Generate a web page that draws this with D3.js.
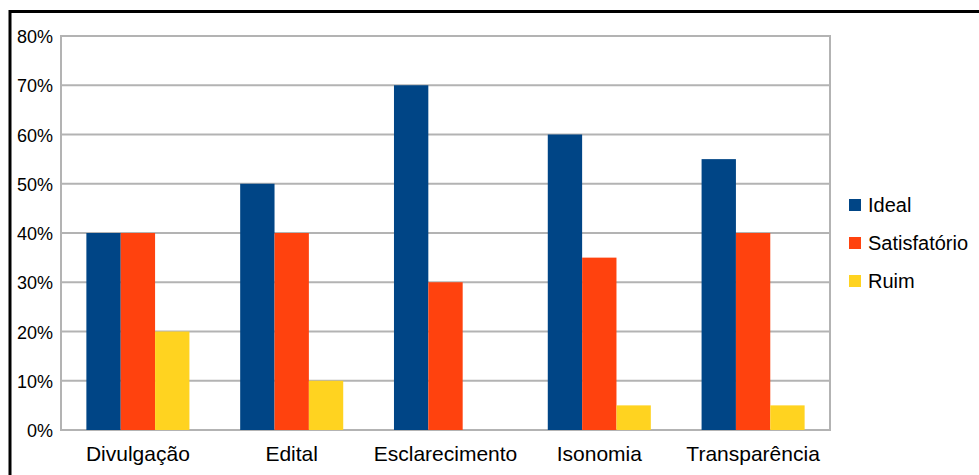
<!DOCTYPE html>
<html lang="en">
<head>
    <meta charset="UTF-8">
    <title>Avaliação</title>
    <script src="https://d3js.org/d3.v7.min.js"></script>
    <style>
        body {
            margin: 0;
            background-color: #ffffff;
            font-family: "Liberation Sans", Arial, sans-serif;
        }
        .grid line {
            stroke: #b3b3b3;
            stroke-width: 2;
        }
        .tick-label {
            font-size: 18px;
            fill: #000;
        }
        .cat-label {
            font-size: 21px;
            fill: #000;
        }
        .legend-label {
            font-size: 20px;
            fill: #000;
        }
    </style>
</head>
<body>
    <div id="chart"></div>

    <script>
        // Data
        var categories = ["Divulgação", "Edital", "Esclarecimento", "Isonomia", "Transparência"];
        var seriesNames = ["Ideal", "Satisfatório", "Ruim"];
        var ideal = [40, 50, 70, 60, 55];
        var satisfatorio = [40, 40, 30, 35, 40];
        var ruim = [20, 10, 0, 5, 5];
        var yTicks = [0, 10, 20, 30, 40, 50, 60, 70, 80];
        var colors = ["#004586", "#ff420e", "#ffd320"];

        var seriesValues = [ideal, satisfatorio, ruim];

        var W = 979, H = 475;
        var margin = {top: 36, right: 149, bottom: 45, left: 61},
            width = W - margin.left - margin.right,
            height = H - margin.top - margin.bottom;

        var svg = d3.select("#chart").append("svg")
            .attr("width", W)
            .attr("height", H);

        // Outer frame (only top and left edges show)
        svg.append("rect")
            .attr("x", 10)
            .attr("y", 11.5)
            .attr("width", W + 20)
            .attr("height", H + 20)
            .attr("fill", "none")
            .attr("stroke", "#000")
            .attr("stroke-width", 3);

        var g = svg.append("g")
            .attr("transform", "translate(" + margin.left + "," + margin.top + ")");

        var x0 = d3.scaleBand()
            .domain(categories)
            .range([0, width])
            .paddingInner(0.33)
            .paddingOuter(0.165);

        var x1 = d3.scaleBand()
            .domain(seriesNames)
            .range([0, x0.bandwidth()]);

        var y = d3.scaleLinear()
            .domain([0, 80])
            .range([height, 0]);

        // Gridlines
        g.append("g")
            .attr("class", "grid")
            .selectAll("line")
            .data(yTicks)
            .enter().append("line")
            .attr("x1", 0)
            .attr("x2", width)
            .attr("y1", function(d) { return y(d); })
            .attr("y2", function(d) { return y(d); });

        // Plot border
        g.append("rect")
            .attr("x", 0)
            .attr("y", 0)
            .attr("width", width)
            .attr("height", height)
            .attr("fill", "none")
            .attr("stroke", "#b3b3b3")
            .attr("stroke-width", 2);

        // Bars
        var rows = [];
        categories.forEach(function(c, i) {
            seriesNames.forEach(function(s, j) {
                rows.push({cat: c, series: s, value: seriesValues[j][i], color: colors[j]});
            });
        });

        g.selectAll("rect.bar")
            .data(rows)
            .enter().append("rect")
            .attr("class", "bar")
            .attr("x", function(d) { return x0(d.cat) + x1(d.series); })
            .attr("y", function(d) { return y(d.value); })
            .attr("width", x1.bandwidth())
            .attr("height", function(d) { return height - y(d.value); })
            .attr("fill", function(d) { return d.color; });

        // Y tick labels
        g.selectAll("text.tick-label")
            .data(yTicks)
            .enter().append("text")
            .attr("class", "tick-label")
            .attr("x", -8)
            .attr("y", function(d) { return y(d) + 7; })
            .attr("text-anchor", "end")
            .text(function(d) { return d + "%"; });

        // Category labels
        g.selectAll("text.cat-label")
            .data(categories)
            .enter().append("text")
            .attr("class", "cat-label")
            .attr("x", function(d) { return x0(d) + x0.bandwidth() / 2; })
            .attr("y", height + 31)
            .attr("text-anchor", "middle")
            .text(function(d) { return d; });

        // Legend
        var legend = svg.append("g")
            .attr("transform", "translate(849,199)");

        var item = legend.selectAll("g")
            .data(seriesNames)
            .enter().append("g")
            .attr("transform", function(d, i) { return "translate(0," + i * 38 + ")"; });

        item.append("rect")
            .attr("width", 12)
            .attr("height", 12)
            .attr("fill", function(d, i) { return colors[i]; });

        item.append("text")
            .attr("class", "legend-label")
            .attr("x", 19)
            .attr("y", 13)
            .text(function(d) { return d; });
    </script>
</body>
</html>
